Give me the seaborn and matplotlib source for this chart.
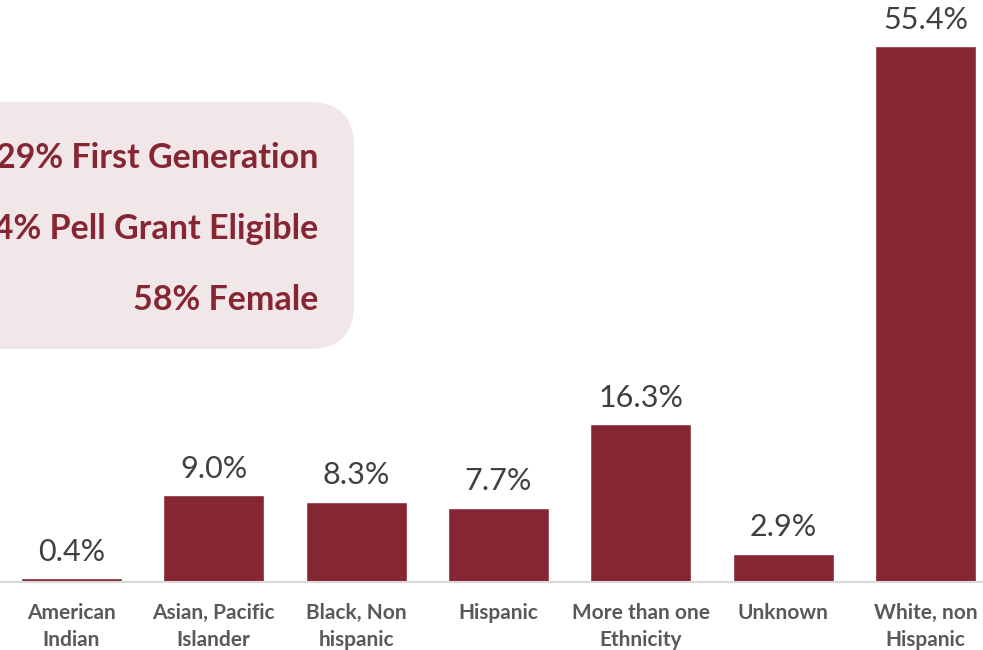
import matplotlib
matplotlib.use("Agg")
import matplotlib.pyplot as plt
from matplotlib.patches import FancyBboxPatch
import seaborn as sns
import pandas as pd

# Datos del gráfico
categorias = ["American\nIndian", "Asian, Pacific\nIslander", "Black, Non\nhispanic",
              "Hispanic", "More than one\nEthnicity", "Unknown", "White, non\nHispanic"]
porcentajes = [0.4, 9.0, 8.3, 7.7, 16.3, 2.9, 55.4]
resumen = ["29% First Generation", "34% Pell Grant Eligible", "58% Female"]

granate = "#862633"
gris_texto = "#404040"

sns.set_theme(style="white")
plt.rcParams["font.family"] = ["Lato", "DejaVu Sans"]

df = pd.DataFrame({"grupo": categorias, "pct": porcentajes})

fig = plt.figure(figsize=(9.83, 6.5), dpi=100)
ax = fig.add_axes([0.0, 68 / 650, 997 / 983, 580 / 650])

sns.barplot(data=df, x="grupo", y="pct", color=granate, width=0.71,
            saturation=1, ax=ax)

ax.bar_label(ax.containers[0], labels=[f"{v:.1f}%" for v in porcentajes],
             padding=9, fontsize=22, color=gris_texto)

ax.set_xlim(-0.5, 6.5)
ax.set_ylim(0, 60)
ax.set_xlabel("")
ax.set_ylabel("")
ax.set_yticks([])
for lado in ["top", "right", "left"]:
    ax.spines[lado].set_visible(False)
ax.spines["bottom"].set_color("#D9D9D9")
ax.spines["bottom"].set_linewidth(1.5)
ax.tick_params(axis="x", length=0, pad=15)
for etiqueta in ax.get_xticklabels():
    etiqueta.set_fontsize(15)
    etiqueta.set_fontweight("bold")
    etiqueta.set_color("#595959")
    etiqueta.set_linespacing(1.45)

# Recuadro con datos generales
caja = FancyBboxPatch((-0.06, (650 - 349) / 650), 0.06 + 354 / 983, 247 / 650,
                      boxstyle="round,pad=0,rounding_size=0.045",
                      mutation_aspect=983 / 650,
                      transform=fig.transFigure, facecolor="#F1E6E8",
                      edgecolor="none", zorder=0)
fig.patches.append(caja)

for i, texto in enumerate(resumen):
    fig.text(318 / 983, (650 - (158 + 71 * i)) / 650, texto, ha="right",
             va="center", fontsize=24.5, fontweight="bold", color=granate)

fig.savefig("out.png", dpi=100)
plt.close(fig)
